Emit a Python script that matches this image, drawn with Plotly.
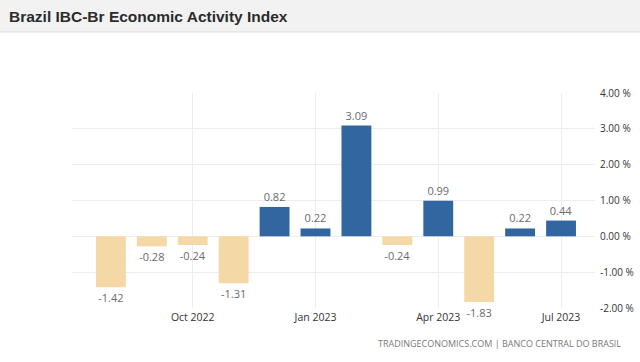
import plotly.graph_objects as go

months = ["Aug 2022", "Sep 2022", "Oct 2022", "Nov 2022", "Dec 2022", "Jan 2023",
          "Feb 2023", "Mar 2023", "Apr 2023", "May 2023", "Jun 2023", "Jul 2023"]
values = [-1.42, -0.28, -0.24, -1.31, 0.82, 0.22, 3.09, -0.24, 0.99, -1.83, 0.22, 0.44]
tick_months = ["Oct 2022", "Jan 2023", "Apr 2023", "Jul 2023"]
y_ticks = [-2, -1, 0, 1, 2, 3, 4]
y_tick_labels = [f"{v:.2f} %" for v in y_ticks]

BLUE = "#3266a1"
TAN = "#f4d8a5"
colors = [BLUE if v >= 0 else TAN for v in values]

fig = go.Figure(go.Bar(
    x=list(range(len(months))),
    y=values,
    marker=dict(color=colors, line=dict(width=0)),
    text=[f"{v:.2f}" for v in values],
    textposition="outside",
    textfont=dict(family="Open Sans", size=11, color="#6a6a6a"),
    cliponaxis=False,
    width=0.73,
    hoverinfo="skip",
))

tick_idx = [months.index(m) for m in tick_months]

L, R, T, B = 72, 45, 93, 54
W, H = 640, 362
pw, ph = W - L - R, H - T - B

fig.update_layout(
    width=W, height=H,
    margin=dict(l=L, r=R, t=T, b=B, pad=0, autoexpand=False),
    paper_bgcolor="white",
    plot_bgcolor="white",
    showlegend=False,
    xaxis=dict(
        range=[-0.95, 11.83],
        tickvals=tick_idx,
        ticktext=tick_months,
        showgrid=True, gridcolor="#ededed", gridwidth=1,
        zeroline=False, showline=False, ticks="",
        ticklabelstandoff=1,
        automargin=False,
        tickfont=dict(family="Open Sans", size=10.5, color="#333333"),
        fixedrange=True,
    ),
    yaxis=dict(
        side="right",
        range=[-2, 4],
        tickvals=y_ticks,
        ticktext=y_tick_labels,
        showgrid=True, gridcolor="#ededed", gridwidth=1,
        zeroline=False, showline=False, ticks="",
        ticklabelstandoff=4,
        automargin=False,
        tickfont=dict(family="Open Sans", size=10, color="#333333"),
        fixedrange=True,
    ),
    shapes=[
        dict(type="rect", xref="paper", yref="paper",
             x0=-0.3, x1=1.3, y0=(ph + T - 32) / ph,
             y1=(ph + T + 5) / ph,
             fillcolor="#f2f2f2", line=dict(width=0), layer="below"),
        dict(type="line", xref="paper", yref="paper",
             x0=-0.3, x1=1.3, y0=(ph + T - 32) / ph, y1=(ph + T - 32) / ph,
             line=dict(color="#dcdcdc", width=1)),
    ],
    annotations=[
        dict(text="<b>Brazil IBC-Br Economic Activity Index</b>",
             xref="paper", yref="paper",
             x=-(L - 7) / pw, y=(ph + T - 16) / ph,
             xanchor="left", yanchor="middle", showarrow=False,
             font=dict(family="Liberation Sans", size=15.5, color="#2b2b2b")),
        dict(text="TRADINGECONOMICS.COM | BANCO CENTRAL DO BRASIL",
             xref="paper", yref="paper",
             x=(W - 17 - L) / pw, y=-(343 - (T + ph)) / ph,
             xanchor="right", yanchor="middle", showarrow=False,
             font=dict(family="Open Sans", size=9, color="#7a7a7a")),
    ],
)

fig.write_html("out.html", config={"displayModeBar": False},
               post_script="document.body.style.margin='0';")
